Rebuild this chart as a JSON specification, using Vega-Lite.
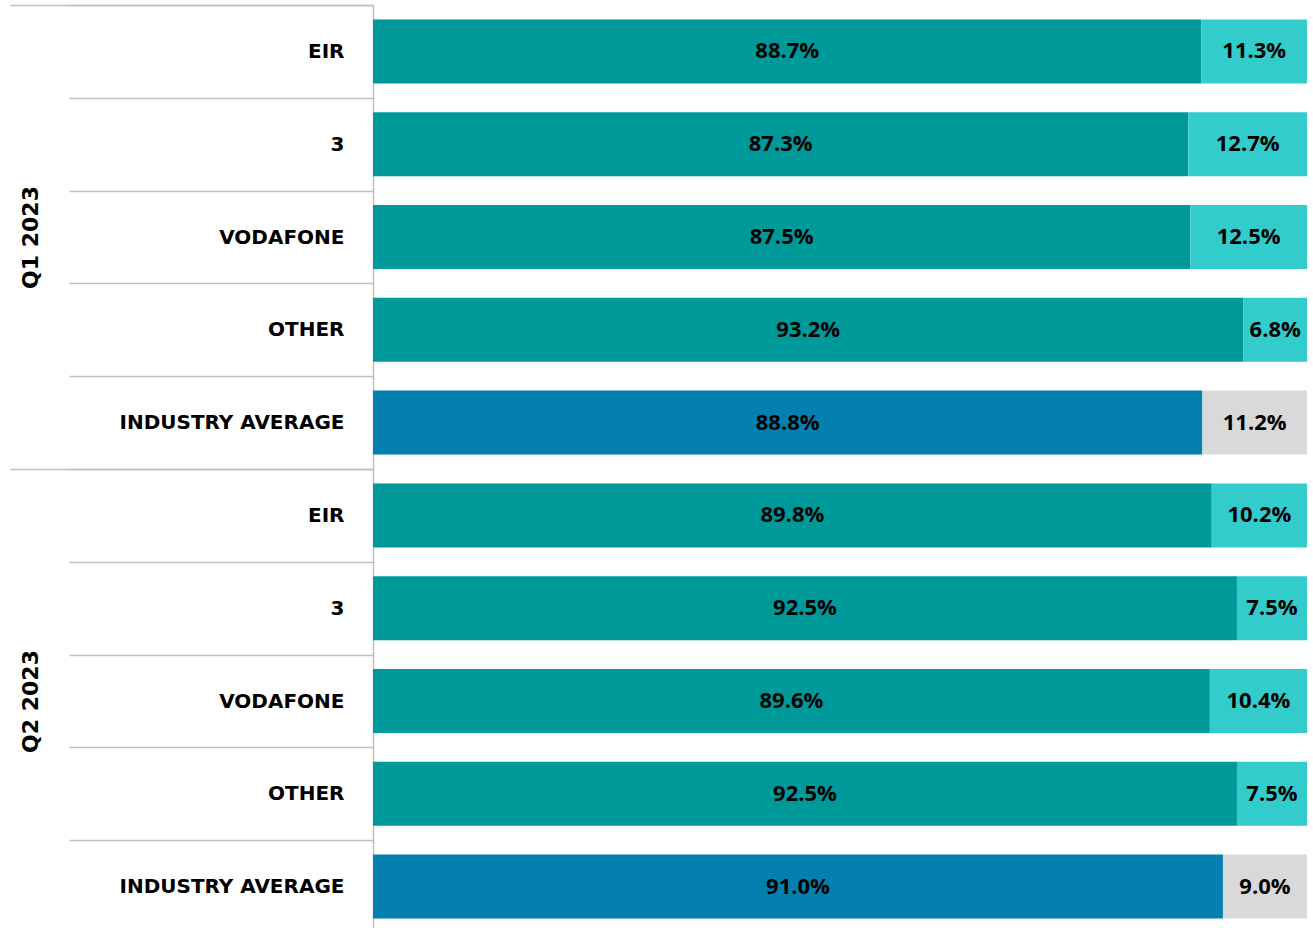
{
  "$schema": "https://vega.github.io/schema/vega-lite/v6.json",
  "autosize": {"type": "none"},
  "padding": {"left": 373, "top": 5, "right": 6, "bottom": 0},
  "width": 934,
  "height": 928,
  "background": "white",
  "config": {"view": {"stroke": null}},
  "data": {
    "values": [
      {"quarter": "Q1 2023", "operator": "EIR", "part": "Share", "series": "Operator share", "value": 0.887},
      {"quarter": "Q1 2023", "operator": "EIR", "part": "Remainder", "series": "Operator remainder", "value": 0.113},
      {"quarter": "Q1 2023", "operator": "3", "part": "Share", "series": "Operator share", "value": 0.873},
      {"quarter": "Q1 2023", "operator": "3", "part": "Remainder", "series": "Operator remainder", "value": 0.127},
      {"quarter": "Q1 2023", "operator": "VODAFONE", "part": "Share", "series": "Operator share", "value": 0.875},
      {"quarter": "Q1 2023", "operator": "VODAFONE", "part": "Remainder", "series": "Operator remainder", "value": 0.125},
      {"quarter": "Q1 2023", "operator": "OTHER", "part": "Share", "series": "Operator share", "value": 0.932},
      {"quarter": "Q1 2023", "operator": "OTHER", "part": "Remainder", "series": "Operator remainder", "value": 0.068},
      {"quarter": "Q1 2023", "operator": "INDUSTRY AVERAGE", "part": "Share", "series": "Industry share", "value": 0.888},
      {"quarter": "Q1 2023", "operator": "INDUSTRY AVERAGE", "part": "Remainder", "series": "Industry remainder", "value": 0.112},
      {"quarter": "Q2 2023", "operator": "EIR", "part": "Share", "series": "Operator share", "value": 0.898},
      {"quarter": "Q2 2023", "operator": "EIR", "part": "Remainder", "series": "Operator remainder", "value": 0.102},
      {"quarter": "Q2 2023", "operator": "3", "part": "Share", "series": "Operator share", "value": 0.925},
      {"quarter": "Q2 2023", "operator": "3", "part": "Remainder", "series": "Operator remainder", "value": 0.075},
      {"quarter": "Q2 2023", "operator": "VODAFONE", "part": "Share", "series": "Operator share", "value": 0.896},
      {"quarter": "Q2 2023", "operator": "VODAFONE", "part": "Remainder", "series": "Operator remainder", "value": 0.104},
      {"quarter": "Q2 2023", "operator": "OTHER", "part": "Share", "series": "Operator share", "value": 0.925},
      {"quarter": "Q2 2023", "operator": "OTHER", "part": "Remainder", "series": "Operator remainder", "value": 0.075},
      {"quarter": "Q2 2023", "operator": "INDUSTRY AVERAGE", "part": "Share", "series": "Industry share", "value": 0.910},
      {"quarter": "Q2 2023", "operator": "INDUSTRY AVERAGE", "part": "Remainder", "series": "Industry remainder", "value": 0.090}
    ]
  },
  "transform": [
    {"calculate": "datum.quarter + '|' + datum.operator", "as": "row"},
    {"stack": "value", "groupby": ["row"], "sort": [{"field": "part", "order": "descending"}], "as": ["x0", "x1"]},
    {"calculate": "(datum.x0 + datum.x1) / 2", "as": "mid"}
  ],
  "layer": [
    {
      "layer": [
        {
          "mark": {"type": "bar", "height": {"band": 0.69}},
          "encoding": {
            "y": {
              "field": "row",
              "type": "nominal",
              "sort": ["Q1 2023|EIR", "Q1 2023|3", "Q1 2023|VODAFONE", "Q1 2023|OTHER", "Q1 2023|INDUSTRY AVERAGE", "Q2 2023|EIR", "Q2 2023|3", "Q2 2023|VODAFONE", "Q2 2023|OTHER", "Q2 2023|INDUSTRY AVERAGE"],
              "scale": {"type": "band", "paddingInner": 0, "paddingOuter": 0},
              "axis": {
                "orient": "left",
                "title": null,
                "domain": true,
                "domainColor": "#BFBFBF",
                "domainWidth": 1.5,
                "ticks": true,
                "tickBand": "extent",
                "tickSize": 304,
                "tickColor": "#BFBFBF",
                "tickWidth": 1.5,
                "labelExpr": "split(datum.label, '|')[1]",
                "labelFont": "DejaVu Sans",
                "labelFontWeight": "bold",
                "labelFontSize": 20,
                "labelColor": "#000000",
                "labelPadding": -275,
                "labelLimit": 400
              }
            },
            "x": {
              "field": "x0",
              "type": "quantitative",
              "scale": {"domain": [0, 1], "nice": false, "zero": true},
              "axis": null
            },
            "x2": {"field": "x1"},
            "color": {
              "field": "series",
              "type": "nominal",
              "scale": {
                "domain": ["Operator share", "Operator remainder", "Industry share", "Industry remainder"],
                "range": ["#009999", "#33CCCC", "#0580AE", "#D9D9D9"]
              },
              "legend": null
            }
          }
        },
        {
          "mark": {"type": "text", "font": "Open Sans", "fontWeight": "bold", "fontSize": 22, "color": "#000000", "align": "center", "baseline": "middle"},
          "encoding": {
            "y": {
              "field": "row",
              "type": "nominal",
              "sort": ["Q1 2023|EIR", "Q1 2023|3", "Q1 2023|VODAFONE", "Q1 2023|OTHER", "Q1 2023|INDUSTRY AVERAGE", "Q2 2023|EIR", "Q2 2023|3", "Q2 2023|VODAFONE", "Q2 2023|OTHER", "Q2 2023|INDUSTRY AVERAGE"]
            },
            "x": {"field": "mid", "type": "quantitative"},
            "text": {"field": "value", "type": "quantitative", "format": ".1%"}
          }
        }
      ]
    },
    {
      "mark": {"type": "point", "opacity": 0},
      "encoding": {
        "y": {
          "field": "quarter",
          "type": "nominal",
          "sort": ["Q1 2023", "Q2 2023"],
          "scale": {"type": "band", "paddingInner": 0, "paddingOuter": 0},
          "axis": {
            "orient": "left",
            "title": null,
            "domain": false,
            "ticks": true,
            "tickBand": "extent",
            "tickSize": 363,
            "tickColor": "#BFBFBF",
            "tickWidth": 1.5,
            "labelAngle": -90,
            "labelAlign": "center",
            "labelBaseline": "middle",
            "labelPadding": -20,
            "labelFont": "DejaVu Sans",
            "labelFontWeight": "bold",
            "labelFontSize": 22,
            "labelColor": "#000000"
          }
        },
        "x": {"field": "x0", "type": "quantitative"}
      }
    }
  ],
  "resolve": {"scale": {"y": "independent"}}
}
